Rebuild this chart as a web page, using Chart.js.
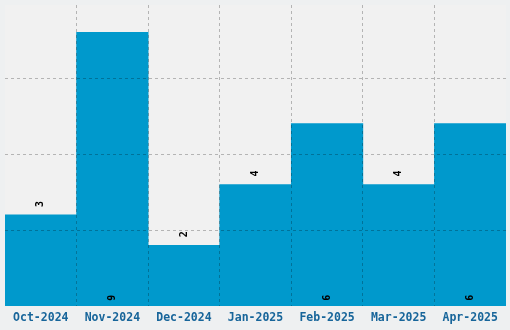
<!DOCTYPE html>
<html>
<head>
<meta charset="utf-8">
<script src="https://cdn.jsdelivr.net/npm/chart.js@4"></script>
<style>
  html, body { margin: 0; padding: 0; background: #eef0f1; }
  #wrap { width: 510px; height: 330px; }
</style>
</head>
<body>
<div id="wrap"><canvas id="chart" width="510" height="330"></canvas></div>
<script>
const months = ['Oct-2024', 'Nov-2024', 'Dec-2024', 'Jan-2025', 'Feb-2025', 'Mar-2025', 'Apr-2025'];
const counts = [3, 9, 2, 4, 6, 4, 6];
const yMax = 9.9;
const yStep = 2.5;

const gridColor = 'rgba(0,0,0,0.25)';

// light panel behind the bars
const panelBg = {
  id: 'panelBg',
  beforeDraw(chart) {
    const {ctx, chartArea: a} = chart;
    ctx.save();
    ctx.fillStyle = '#f1f1f1';
    ctx.fillRect(a.left, a.top, a.right - a.left, a.bottom - a.top);
    ctx.restore();
  }
};

// rotated value labels: small bars get it above, tall bars inside at the bottom
const valueLabels = {
  id: 'valueLabels',
  afterDraw(chart) {
    const ctx = chart.ctx;
    const meta = chart.getDatasetMeta(0);
    ctx.save();
    ctx.fillStyle = '#000';
    ctx.font = 'bold 10px "DejaVu Sans Mono"';
    ctx.textAlign = 'center';
    ctx.textBaseline = 'middle';
    meta.data.forEach((bar, i) => {
      const v = counts[i];
      const y = v >= 5 ? bar.base - 8 : bar.y - 11;
      ctx.save();
      ctx.translate(bar.x, y);
      ctx.rotate(-Math.PI / 2);
      ctx.fillText(String(v), 0, 0);
      ctx.restore();
    });
    ctx.restore();
  }
};

new Chart(document.getElementById('chart').getContext('2d'), {
  type: 'bar',
  data: {
    labels: months,
    datasets: [{
      data: counts,
      backgroundColor: '#0099cc',
      borderWidth: 0,
      categoryPercentage: 1,
      barPercentage: 1
    }]
  },
  options: {
    responsive: false,
    animation: false,
    layout: { padding: { left: 5, right: 4, top: 5, bottom: 0 } },
    plugins: { legend: { display: false }, tooltip: { enabled: false } },
    scales: {
      x: {
        offset: true,
        border: { display: false, dash: [3, 3] },
        grid: {
          offset: true,
          z: 1,
          drawTicks: false,
          color: c => (c.type !== 'tick' || c.index === 0) ? 'transparent' : gridColor
        },
        ticks: {
          padding: 5,
          color: '#17659a',
          font: { family: '"DejaVu Sans Mono"', size: 11.5, weight: 'bold' },
          maxRotation: 0
        }
      },
      y: {
        min: 0,
        max: yMax,
        border: { display: false, dash: [3, 3] },
        grid: {
          z: 1,
          drawTicks: false,
          color: c => (c.tick && c.tick.value > 0 && c.tick.value < yMax) ? gridColor : 'transparent'
        },
        ticks: { display: false, stepSize: yStep }
      }
    }
  },
  plugins: [panelBg, valueLabels]
});
</script>
</body>
</html>
